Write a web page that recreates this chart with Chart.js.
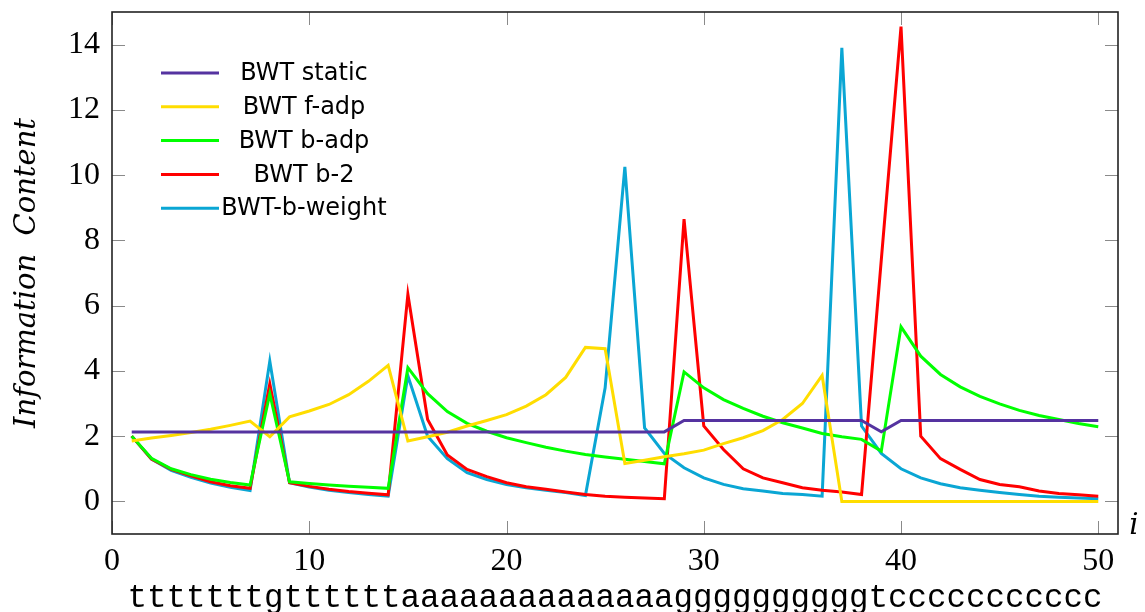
<!DOCTYPE html>
<html>
<head>
<meta charset="utf-8">
<script src="https://cdn.jsdelivr.net/npm/chart.js@4.4.1/dist/chart.umd.min.js"></script>
<style>
    html, body { margin: 0; padding: 0; background: #fff; }
    #wrap { width: 1145px; height: 612px; position: relative; }
</style>
</head>
<body>
<div id="wrap"><canvas id="chart"></canvas></div>
<script>
const positions = [1, 2, 3, 4, 5, 6, 7, 8, 9, 10, 11, 12, 13, 14, 15, 16, 17, 18, 19, 20,
    21, 22, 23, 24, 25, 26, 27, 28, 29, 30, 31, 32, 33, 34, 35, 36, 37, 38, 39, 40,
    41, 42, 43, 44, 45, 46, 47, 48, 49, 50];
const sequence = 'tttttttgttttttaaaaaaaaaaaaaaggggggggggtccccccccccc';

const bwtStatic = [2.13, 2.13, 2.13, 2.13, 2.13, 2.13, 2.13, 2.13, 2.13, 2.13,
    2.13, 2.13, 2.13, 2.13, 2.13, 2.13, 2.13, 2.13, 2.13, 2.13,
    2.13, 2.13, 2.13, 2.13, 2.13, 2.13, 2.13, 2.13, 2.48, 2.48,
    2.48, 2.48, 2.48, 2.48, 2.48, 2.48, 2.48, 2.48, 2.13, 2.48,
    2.48, 2.48, 2.48, 2.48, 2.48, 2.48, 2.48, 2.48, 2.48, 2.48];
const bwtFAdp = [1.85, 1.94, 2.02, 2.11, 2.21, 2.33, 2.46, 1.98, 2.59, 2.77,
    2.97, 3.27, 3.68, 4.17, 1.85, 1.98, 2.12, 2.31, 2.48, 2.66,
    2.92, 3.27, 3.80, 4.72, 4.68, 1.16, 1.26, 1.37, 1.46, 1.57,
    1.77, 1.95, 2.17, 2.51, 3.00, 3.86, 0, 0, 0, 0,
    0, 0, 0, 0, 0, 0, 0, 0, 0, 0];
const bwtBAdp = [2.0, 1.32, 1.0, 0.82, 0.68, 0.58, 0.5, 3.3, 0.6, 0.55,
    0.5, 0.46, 0.43, 0.4, 4.1, 3.3, 2.75, 2.39, 2.15, 1.95,
    1.80, 1.66, 1.54, 1.44, 1.36, 1.29, 1.22, 1.15, 3.97, 3.48,
    3.12, 2.85, 2.61, 2.41, 2.25, 2.08, 1.98, 1.9, 1.54, 5.35,
    4.45, 3.89, 3.51, 3.22, 2.99, 2.79, 2.63, 2.51, 2.39, 2.29];
const bwtB2 = [2.0, 1.3, 0.98, 0.78, 0.6, 0.48, 0.4, 3.6, 0.57, 0.46,
    0.37, 0.3, 0.25, 0.2, 6.35, 2.51, 1.42, 0.98, 0.76, 0.57,
    0.45, 0.37, 0.29, 0.21, 0.16, 0.13, 0.1, 0.08, 8.65, 2.31,
    1.59, 1.0, 0.72, 0.57, 0.42, 0.34, 0.29, 0.21, 7.4, 14.55,
    2.0, 1.31, 0.98, 0.67, 0.52, 0.45, 0.32, 0.24, 0.2, 0.16];
const bwtBWeight = [2.0, 1.3, 0.95, 0.74, 0.56, 0.43, 0.33, 4.3, 0.57, 0.44,
    0.34, 0.27, 0.21, 0.16, 3.85, 2.0, 1.31, 0.88, 0.67, 0.52,
    0.42, 0.34, 0.27, 0.18, 3.48, 10.25, 2.25, 1.47, 1.03, 0.72,
    0.52, 0.39, 0.32, 0.24, 0.21, 0.16, 13.9, 2.31, 1.47, 1.0,
    0.72, 0.54, 0.42, 0.34, 0.27, 0.21, 0.16, 0.13, 0.1, 0.08];

const seriesNames = ['BWT static', 'BWT f-adp', 'BWT b-adp', 'BWT b-2', 'BWT-b-weight'];
const seriesColors = ['#5533a0', '#ffdd00', '#00ff00', '#ff0000', '#0aa6d4'];
const xTicks = [0, 10, 20, 30, 40, 50];
const yTicks = [0, 2, 4, 6, 8, 10, 12, 14];

const allSeries = [bwtStatic, bwtFAdp, bwtBAdp, bwtB2, bwtBWeight];

function toPoints(values) {
    return positions.map((x, i) => ({x: x, y: values[i]}));
}

// frame, inward ticks, legend inside the plot and the "i" label
const framePlugin = {
    id: 'framePlugin',
    afterDraw(chart) {
        const ctx = chart.ctx;
        const area = chart.chartArea;
        const xs = chart.scales.x;
        const ys = chart.scales.y;
        ctx.save();

        ctx.strokeStyle = '#8a8a8a';
        ctx.lineWidth = 1;
        ctx.beginPath();
        xTicks.forEach(v => {
            const px = Math.round(xs.getPixelForValue(v)) + 0.5;
            ctx.moveTo(px, area.bottom);
            ctx.lineTo(px, area.bottom - 13);
            ctx.moveTo(px, area.top);
            ctx.lineTo(px, area.top + 13);
        });
        yTicks.forEach(v => {
            const py = Math.round(ys.getPixelForValue(v)) + 0.5;
            ctx.moveTo(area.left, py);
            ctx.lineTo(area.left + 13, py);
            ctx.moveTo(area.right, py);
            ctx.lineTo(area.right - 13, py);
        });
        ctx.stroke();

        ctx.strokeStyle = '#222';
        ctx.lineWidth = 1.6;
        ctx.strokeRect(area.left, area.top, area.right - area.left, area.bottom - area.top);

        // legend
        chart.data.datasets.forEach((ds, i) => {
            const y = area.top + 61 + i * 33.8;
            ctx.strokeStyle = ds.borderColor;
            ctx.lineWidth = 3;
            ctx.beginPath();
            ctx.moveTo(area.left + 49, y);
            ctx.lineTo(area.left + 107, y);
            ctx.stroke();
            ctx.fillStyle = '#000';
            ctx.font = '24px "DejaVu Sans"';
            ctx.textAlign = 'center';
            ctx.textBaseline = 'middle';
            ctx.fillText(ds.label, area.left + 192, y + 1);
        });

        ctx.fillStyle = '#000';
        ctx.font = 'italic 29px "DejaVu Serif"';
        ctx.textAlign = 'center';
        ctx.textBaseline = 'middle';
        ctx.fillText('i', area.right + 16, area.bottom - 8);
        ctx.restore();
    }
};

new Chart(document.getElementById('chart'), {
    type: 'line',
    data: {
        datasets: allSeries.map((values, i) => ({
            label: seriesNames[i],
            data: toPoints(values),
            borderColor: seriesColors[i],
            backgroundColor: seriesColors[i],
            borderWidth: 3,
            pointRadius: 0,
            tension: 0,
            fill: false
        }))
    },
    options: {
        responsive: true,
        maintainAspectRatio: false,
        animation: false,
        layout: {
            padding: {left: 0, top: 12, right: 27, bottom: 0}
        },
        plugins: {
            legend: {display: false},
            tooltip: {enabled: false}
        },
        scales: {
            x: {
                type: 'linear',
                min: 0,
                max: 51,
                afterBuildTicks: scale => { scale.ticks = xTicks.map(v => ({value: v})); },
                afterFit: scale => {
                    scale.height = 78;
                    scale.paddingLeft = 0;
                    scale.paddingRight = 0;
                },
                grid: {display: false, drawTicks: false},
                border: {display: false},
                ticks: {
                    padding: 8,
                    color: '#000',
                    font: {family: '"Liberation Serif"', size: 32}
                },
                title: {
                    display: true,
                    text: sequence,
                    color: '#000',
                    padding: {top: 0, bottom: 0},
                    font: {family: '"Liberation Mono"', size: 32.5, lineHeight: 0.85}
                }
            },
            y: {
                min: -1,
                max: 15,
                afterBuildTicks: scale => { scale.ticks = yTicks.map(v => ({value: v})); },
                afterFit: scale => {
                    scale.width = 112;
                    scale.paddingTop = 0;
                    scale.paddingBottom = 0;
                },
                grid: {display: false, drawTicks: false},
                border: {display: false},
                ticks: {
                    padding: 12,
                    color: '#000',
                    font: {family: '"Liberation Serif"', size: 32}
                },
                title: {
                    display: true,
                    text: 'Information  Content',
                    color: '#000',
                    padding: {top: 13, bottom: 0},
                    font: {family: '"DejaVu Serif"', size: 29, style: 'italic', lineHeight: 1}
                }
            }
        }
    },
    plugins: [framePlugin]
});
</script>
</body>
</html>
